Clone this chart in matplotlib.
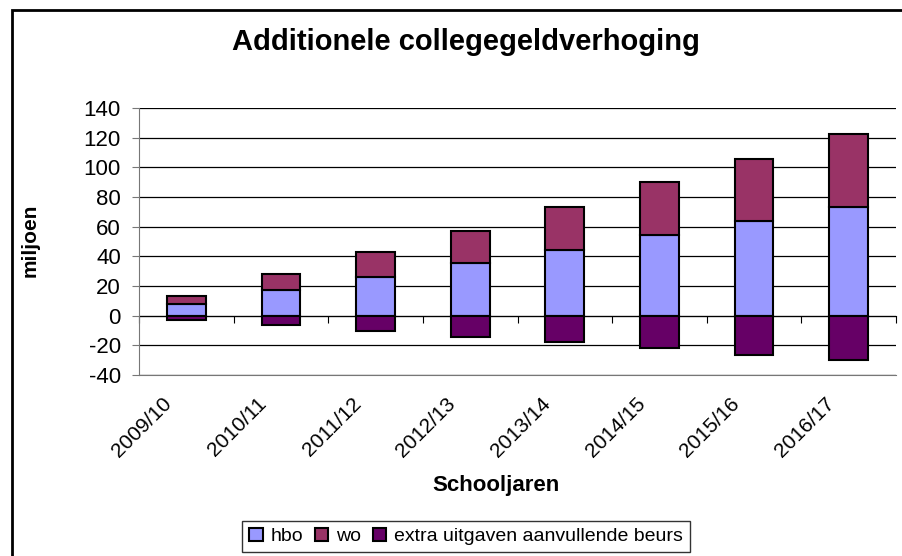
import numpy as np
import matplotlib.pyplot as plt
from matplotlib.patches import Rectangle
from matplotlib.transforms import ScaledTranslation

plt.rcParams['font.family'] = ['Liberation Sans', 'DejaVu Sans']
plt.rcParams['axes.unicode_minus'] = False

# data (miljoen)
years = ['2009/10', '2010/11', '2011/12', '2012/13', '2013/14', '2014/15', '2015/16', '2016/17']
hbo = [8.1, 17.6, 25.9, 35.6, 44.6, 54.3, 63.5, 73.2]
wo = [5.4, 10.8, 16.9, 21.6, 28.4, 35.6, 42.1, 49.3]
extra = [-2.7, -6.5, -10.4, -14.6, -17.8, -22.0, -26.4, -30.2]

x = np.arange(len(years))
w = 0.41

fig = plt.figure(figsize=(9.02, 5.56), dpi=100)
ax = fig.add_axes([139/902, 1 - 375/556, (896 - 139)/902, (375 - 108)/556])

ax.bar(x, hbo, w, color='#9999FF', edgecolor='black', lw=1.5, label='hbo', zorder=3)
ax.bar(x, wo, w, bottom=hbo, color='#993366', edgecolor='black', lw=1.5, label='wo', zorder=3)
ax.bar(x, extra, w, color='#660066', edgecolor='black', lw=1.5,
       label='extra uitgaven aanvullende beurs', zorder=3)

ax.set_xlim(-0.5, len(years) - 0.5)
ax.set_ylim(-40, 140)
ax.set_yticks(np.arange(-40, 141, 20))
ax.yaxis.grid(True, color='black', lw=0.9)
ax.set_axisbelow(True)
for s in ['top', 'right']:
    ax.spines[s].set_visible(False)
ax.spines['left'].set_color('#777777')
ax.spines['bottom'].set_color('#777777')
ax.tick_params(axis='y', length=5, color='#777777', labelsize=16, pad=8)

ax.set_xticks(x)
ax.set_xticklabels(years, rotation=45, ha='right', rotation_mode='anchor', fontsize=15)
ax.tick_params(axis='x', length=0, pad=8)
shift = ScaledTranslation(-24/100, -8/100, fig.dpi_scale_trans)
for lab in ax.get_xticklabels():
    lab.set_transform(lab.get_transform() + shift)

# category axis at zero with ticks between categories
sec = ax.secondary_xaxis(40/180)
sec.set_xticks(np.arange(-0.5, len(years), 1.0))
sec.set_xticklabels([])
sec.tick_params(direction='out', length=5, color='black')
sec.spines['bottom'].set_color('black')

fig.text(496/902, 1 - 485/556, 'Schooljaren', ha='center', va='center',
         fontsize=16, fontweight='bold')
fig.text(30/902, 1 - 240/556, 'miljoen', ha='center', va='center', rotation=90,
         fontsize=15, fontweight='bold')
fig.text(466/902, 1 - 42/556, 'Additionele collegegeldverhoging', ha='center', va='center',
         fontsize=21, fontweight='bold')

leg = ax.legend(loc='upper center', bbox_to_anchor=(466/902, 1 - 521/556),
                bbox_transform=fig.transFigure, ncol=3, frameon=True, fancybox=False,
                edgecolor='black', fontsize=14, handlelength=0.7, handleheight=0.7,
                handletextpad=0.4, columnspacing=0.6, borderpad=0.35, borderaxespad=0)
leg.get_frame().set_linewidth(1.0)

# chart border
fig.patches.append(Rectangle((12/902, -0.1), 1.2, 1.1 - 10/556, transform=fig.transFigure,
                             fill=False, edgecolor='black', lw=2))

fig.savefig('out.png', dpi=100)
